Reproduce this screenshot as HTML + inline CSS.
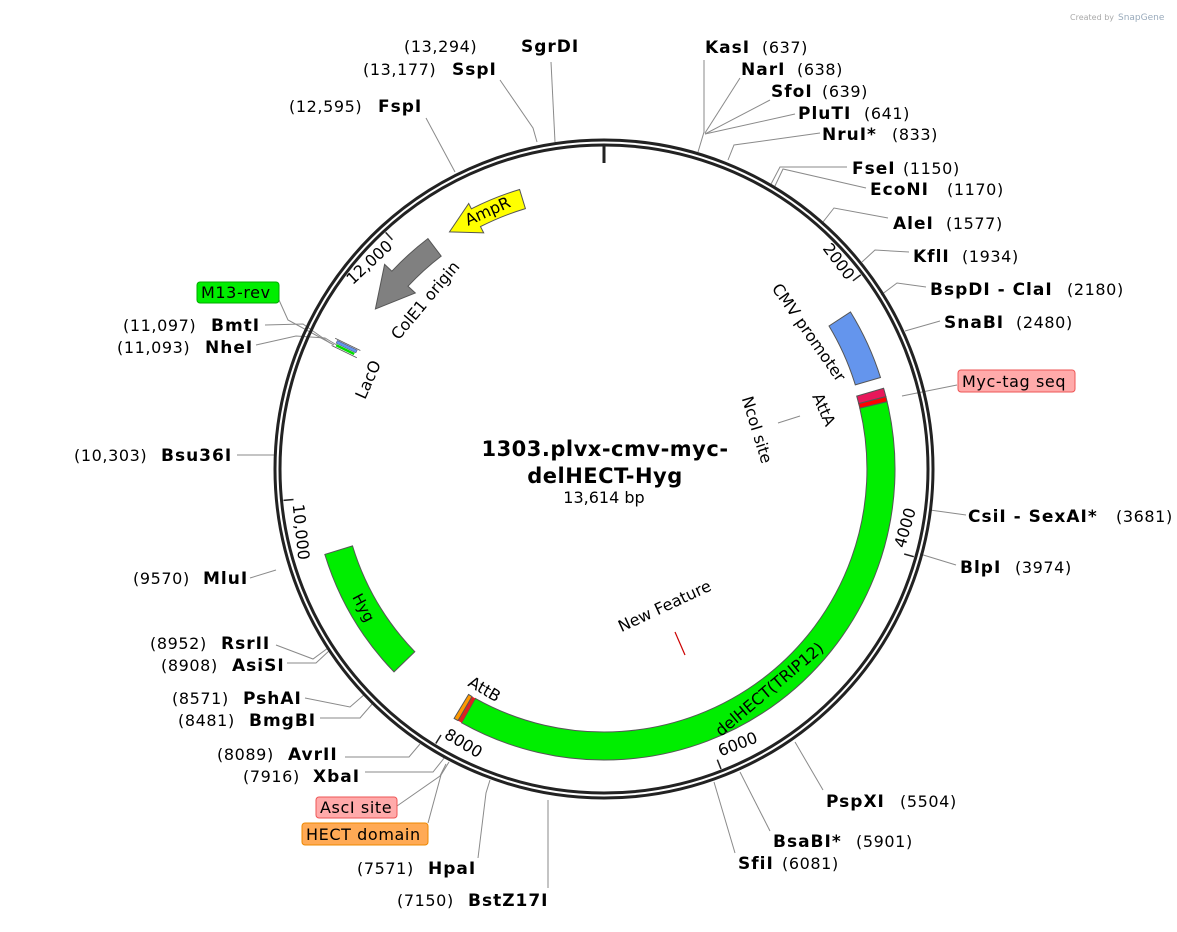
<!DOCTYPE html>
<html><head><meta charset="utf-8"><style>
html,body{margin:0;padding:0;background:#fff;}
svg{display:block;font-family:"DejaVu Sans","Liberation Sans",sans-serif;}
.n{font-weight:bold;font-size:17px;letter-spacing:1px;fill:#000}
.p{font-size:16px;letter-spacing:0.6px;fill:#000}
.l{stroke:#8a8a8a;stroke-width:1;fill:none}
.f{font-size:16px;fill:#000}
</style></head><body>
<svg width="1177" height="932" viewBox="0 0 1177 932" xmlns="http://www.w3.org/2000/svg">
<text x="1070" y="20" font-size="8" fill="#aaa">Created by</text><text x="1118" y="20" font-size="9" fill="#9ab">SnapGene</text>

<g class="l">
<polyline points="551,62 555,142"/>
<polyline points="500,80 533,128 537,142"/>
<polyline points="426,118 455,172"/>
<polyline points="704,60 704,132 698,152"/>
<polyline points="740,78 705,133"/>
<polyline points="770,100 705,134"/>
<polyline points="795,114 705,134"/>
<polyline points="820,133 734,145 728,160"/>
<polyline points="847,167 780,167 770,186"/>
<polyline points="866,188 783,169 774,188"/>
<polyline points="888,218 834,208 823,222"/>
<polyline points="909,252 875,250 862,262"/>
<polyline points="926,287 897,283 881,295"/>
<polyline points="940,321 905,331"/>
<polyline points="957,385 902,396"/>
<polyline points="966,515 930,510"/>
<polyline points="956,565 920,554"/>
<polyline points="823,790 795,742"/>
<polyline points="770,831 740,772"/>
<polyline points="735,853 714,782"/>
<polyline points="548,888 548,800"/>
<polyline points="478,858 486,793 490,780"/>
<polyline points="428,823 441,775 449,762"/>
<polyline points="397,806 440,776 446,764"/>
<polyline points="365,772 433,772 445,757"/>
<polyline points="345,757 409,757 420,744"/>
<polyline points="320,718 360,718 373,703"/>
<polyline points="305,698 350,707 365,694"/>
<polyline points="287,663 316,663 330,650"/>
<polyline points="276,645 313,659 328,648"/>
<polyline points="250,578 276,570"/>
<polyline points="237,455 274,455"/>
<polyline points="256,345 296,336 325,338 345,350"/>
<polyline points="265,325 303,324 330,343"/>
<polyline points="279,300 288,320 334,345"/>
<polyline points="778,423 800,416"/>
</g>

<circle cx="604" cy="469" r="329" fill="none" stroke="#222" stroke-width="3"/>
<circle cx="604" cy="469" r="324" fill="none" stroke="#222" stroke-width="3"/>
<line x1="604" y1="146" x2="604" y2="163" stroke="#222" stroke-width="3"/>
<g stroke="#222" stroke-width="1.5">
<line x1="860.8" y1="274.8" x2="852.9" y2="280.8"/>
<line x1="913.8" y1="556.7" x2="904.2" y2="554"/>
<line x1="721" y1="769" x2="717.3" y2="759.7"/>
<line x1="435.8" y1="743.5" x2="441" y2="735"/>
<line x1="283.5" y1="500.4" x2="293.5" y2="499.5"/>
<line x1="385.6" y1="232.4" x2="392.4" y2="239.7"/>
</g>
<g font-size="16" text-anchor="middle" dominant-baseline="middle">
<text transform="translate(838,262) rotate(53)">2000</text>
<text transform="translate(906,528) rotate(-74)">4000</text>
<text transform="translate(738,745) rotate(-21)">6000</text>
<text transform="translate(463,744) rotate(31)">8000</text>
<text transform="translate(300,532) rotate(84)">10,000</text>
<text transform="translate(370,263) rotate(-43)">12,000</text>
</g>

<path d="M887.1,401.6 A291,291 0 0 1 461.6,722.8 L475.3,698.4 A263,263 0 0 0 859.8,408.1 Z" fill="#00ee00" stroke="#555" stroke-width="1"/>
<path d="M883.6,388.3 A291,291 0 0 1 885.9,396.6 L858.7,403.6 A263,263 0 0 0 856.7,396.1 Z" fill="#e8185a" stroke="#555" stroke-width="1"/>
<path d="M885.9,396.6 A291,291 0 0 1 887.1,401.6 L859.8,408.1 A263,263 0 0 0 858.7,403.6 Z" fill="#ff0000" stroke="#555" stroke-width="1"/>
<path d="M461.6,722.8 L458,720.6 L472,696.5 L475.3,698.4 Z" fill="#d22" />
<path d="M458,720.6 A291,291 0 0 1 454.1,718.4 L468.6,694.4 A263,263 0 0 0 472,696.5 Z" fill="#ff9900" stroke="#555" stroke-width="1"/>
<path d="M850.5,312 A292,292 0 0 1 880.5,377.5 L855.3,384.9 A265,265 0 0 0 829,326 Z" fill="#6495ed" stroke="#555" stroke-width="1"/>
<path d="M324.8,554.4 A292,292 0 0 0 394,671.9 L414.8,651.7 A263,263 0 0 1 352.5,545.9 Z" fill="#00ee00" stroke="#555" stroke-width="1"/>
<path d="M427.9,238.6 A290,290 0 0 0 391.9,271.2 L384.6,264.4 L375.4,309 L415.3,293 L408,286.2 A268,268 0 0 1 441.2,256.1 Z" fill="#808080" stroke="#555" stroke-width="1"/>
<path d="M519.6,189.5 A292,292 0 0 0 471.4,208.8 L468.7,203.5 L449.5,231.9 L483.7,232.9 L480.5,226.6 A272,272 0 0 1 525.4,208.6 Z" fill="#ffff00" stroke="#555" stroke-width="1"/>
<g transform="translate(346,348) rotate(26)">
<line x1="-14" y1="-4" x2="14" y2="-4" stroke="#555" stroke-width="0.8"/>
<rect x="-11" y="-3" width="22" height="3" fill="#6495ed" stroke="#446" stroke-width="0.5"/>
<rect x="-10" y="0.5" width="20" height="2.5" fill="#00dd00"/>
<line x1="-14" y1="4" x2="14" y2="4" stroke="#555" stroke-width="0.8"/>
</g>
<line x1="675" y1="632" x2="685" y2="655" stroke="#c00" stroke-width="1.2"/>

<g class="f" text-anchor="middle" dominant-baseline="middle">
<text transform="translate(808,333) rotate(55)">CMV promoter</text>
<text transform="translate(823,410) rotate(66)">AttA</text>
<text transform="translate(756,430) rotate(73)">NcoI site</text>
<text transform="translate(426,301) rotate(-50)">ColE1 origin</text>
<text transform="translate(369,380) rotate(-66)">LacO</text>
<text transform="translate(488,212) rotate(-24)" font-size="16">AmpR</text>
<text transform="translate(363,608) rotate(62)" font-size="15">Hyg</text>
<text transform="translate(770,690) rotate(-40)">delHECT(TRIP12)</text>
<text transform="translate(484,690) rotate(30)">AttB</text>
<text transform="translate(665,607) rotate(-25)">New Feature</text>
</g>

<text x="605" y="456" text-anchor="middle" font-size="21" font-weight="bold" letter-spacing="0.5">1303.plvx-cmv-myc-</text>
<text x="605" y="483" text-anchor="middle" font-size="21" font-weight="bold" letter-spacing="0.5">delHECT-Hyg</text>
<text x="604" y="503" text-anchor="middle" font-size="16">13,614 bp</text>

<text class="n" x="705" y="53">KasI</text><text class="p" x="762" y="53">(637)</text>
<text class="n" x="741" y="75">NarI</text><text class="p" x="797" y="75">(638)</text>
<text class="n" x="771" y="97">SfoI</text><text class="p" x="822" y="97">(639)</text>
<text class="n" x="798" y="119">PluTI</text><text class="p" x="864" y="119">(641)</text>
<text class="n" x="822" y="140">NruI*</text><text class="p" x="892" y="140">(833)</text>
<text class="n" x="852" y="174">FseI</text><text class="p" x="903" y="174">(1150)</text>
<text class="n" x="870" y="195">EcoNI</text><text class="p" x="947" y="195">(1170)</text>
<text class="n" x="893" y="229">AleI</text><text class="p" x="946" y="229">(1577)</text>
<text class="n" x="913" y="262">KflI</text><text class="p" x="962" y="262">(1934)</text>
<text class="n" x="930" y="295">BspDI - ClaI</text><text class="p" x="1067" y="295">(2180)</text>
<text class="n" x="944" y="328">SnaBI</text><text class="p" x="1016" y="328">(2480)</text>
<rect x="958" y="370" width="117" height="22" rx="3" fill="#ffaaaa" stroke="#e55" stroke-width="1"/>
<text class="p" x="962" y="387">Myc-tag seq</text>
<text class="n" x="968" y="522">CsiI - SexAI*</text><text class="p" x="1116" y="522">(3681)</text>
<text class="n" x="960" y="573">BlpI</text><text class="p" x="1015" y="573">(3974)</text>
<text class="n" x="826" y="807">PspXI</text><text class="p" x="900" y="807">(5504)</text>
<text class="n" x="773" y="847">BsaBI*</text><text class="p" x="856" y="847">(5901)</text>
<text class="n" x="738" y="869">SfiI</text><text class="p" x="782" y="869">(6081)</text>

<text class="p" x="404" y="52">(13,294)</text><text class="n" x="521" y="52">SgrDI</text>
<text class="p" x="363" y="75">(13,177)</text><text class="n" x="452" y="75">SspI</text>
<text class="p" x="289" y="112">(12,595)</text><text class="n" x="378" y="112">FspI</text>
<rect x="197" y="282" width="82" height="21" rx="3" fill="#00ee00" stroke="#0a0" stroke-width="1"/>
<text class="p" x="201" y="298">M13-rev</text>
<text class="p" x="123" y="331">(11,097)</text><text class="n" x="211" y="331">BmtI</text>
<text class="p" x="117" y="353">(11,093)</text><text class="n" x="205" y="353">NheI</text>
<text class="p" x="74" y="461">(10,303)</text><text class="n" x="161" y="461">Bsu36I</text>
<text class="p" x="133" y="584">(9570)</text><text class="n" x="203" y="584">MluI</text>
<text class="p" x="150" y="649">(8952)</text><text class="n" x="221" y="649">RsrII</text>
<text class="p" x="161" y="671">(8908)</text><text class="n" x="232" y="671">AsiSI</text>
<text class="p" x="172" y="704">(8571)</text><text class="n" x="243" y="704">PshAI</text>
<text class="p" x="178" y="726">(8481)</text><text class="n" x="249" y="726">BmgBI</text>
<text class="p" x="217" y="760">(8089)</text><text class="n" x="288" y="760">AvrII</text>
<text class="p" x="243" y="782">(7916)</text><text class="n" x="313" y="782">XbaI</text>
<rect x="316" y="797" width="81" height="21" rx="3" fill="#ffaaaa" stroke="#e55" stroke-width="1"/>
<text class="p" x="320" y="813">AscI site</text>
<rect x="302" y="823" width="126" height="22" rx="3" fill="#ffaa55" stroke="#e80" stroke-width="1"/>
<text class="p" x="306" y="840">HECT domain</text>
<text class="p" x="357" y="874">(7571)</text><text class="n" x="428" y="874">HpaI</text>
<text class="p" x="397" y="906">(7150)</text><text class="n" x="468" y="906">BstZ17I</text>
</svg>
</body></html>
